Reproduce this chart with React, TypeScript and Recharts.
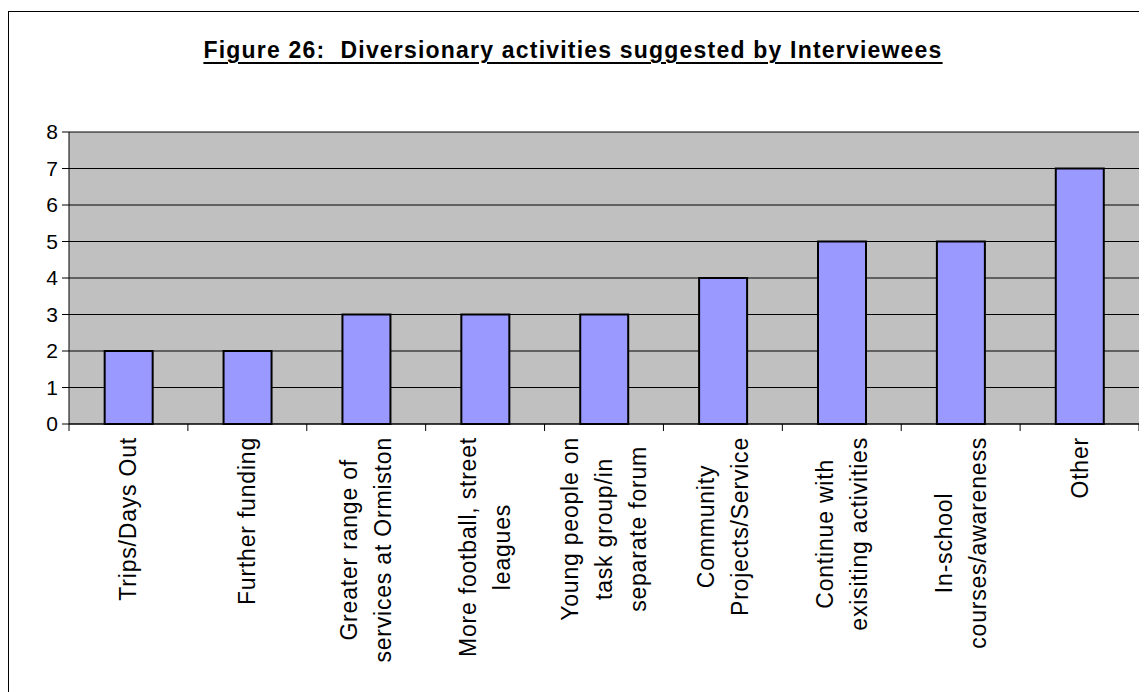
import React from "react";
import { BarChart, Bar, XAxis, YAxis, CartesianGrid } from "recharts";

const categories = [
  "Trips/Days Out",
  "Further funding",
  "Greater range of\nservices at Ormiston",
  "More football, street\nleagues",
  "Young people on\ntask group/in\nseparate forum",
  "Community\nProjects/Service",
  "Continue with\nexisiting activities",
  "In-school\ncourses/awareness",
  "Other",
];
const counts = [2, 2, 3, 3, 3, 4, 5, 5, 7];
const yTicks = [0, 1, 2, 3, 4, 5, 6, 7, 8];

const data = categories.map((name, i) => ({ name, value: counts[i] }));

const FONT = '"Liberation Sans", Arial, sans-serif';
const LABEL_SIZE = 23;
const LABEL_SPACING = 0.8;
const LINE_GAP = 34;

let ctx: CanvasRenderingContext2D | null = null;
function textWidth(s: string) {
  if (!ctx) ctx = document.createElement("canvas").getContext("2d");
  if (!ctx) return s.length * LABEL_SIZE * 0.5;
  ctx.font = `${LABEL_SIZE}px "Liberation Sans"`;
  return ctx.measureText(s).width + LABEL_SPACING * s.length;
}

const XTick = (props: any) => {
  const { x, y, payload, index } = props;
  const off = payload?.offset ?? 0;
  const lines: string[] = String(payload.value).split("\n");
  const maxLen = Math.max(...lines.map(textWidth));
  const cy = y + 13 + maxLen / 2;
  const n = lines.length;
  return (
    <g>
      <line x1={x - off} x2={x - off} y1={y} y2={y + 7} stroke="#000" />
      {index === categories.length - 1 && (
        <line x1={x + off} x2={x + off} y1={y} y2={y + 7} stroke="#000" />
      )}
      {lines.map((ln, i) => {
        const lx = x + (i - (n - 1) / 2) * LINE_GAP;
        return (
          <text
            key={i}
            x={lx}
            y={cy}
            transform={`rotate(-90, ${lx}, ${cy})`}
            textAnchor="middle"
            dominantBaseline="central"
            fontFamily={FONT}
            fontSize={LABEL_SIZE}
            letterSpacing={LABEL_SPACING}
            fill="#000"
          >
            {ln}
          </text>
        );
      })}
    </g>
  );
};

export default function App() {
  return (
    <div
      style={{
        position: "relative",
        marginTop: 3,
        width: 1138,
        height: 680,
        borderLeft: "1px solid #000",
        borderTop: "1px solid #000",
        background: "#fff",
      }}
    >
      <div
        style={{
          position: "absolute",
          left: 0,
          width: 1128,
          top: 27,
          textAlign: "center",
          fontFamily: FONT,
          fontWeight: "bold",
          fontSize: 23,
          letterSpacing: 1.2,
          textDecoration: "underline",
          textDecorationThickness: 2,
          textUnderlineOffset: 4,
          lineHeight: "23px",
        }}
      >
        Figure 26:&nbsp; Diversionary activities suggested by Interviewees
      </div>
      <BarChart
        width={1138}
        height={680}
        data={data}
        barCategoryGap="30%"
        margin={{ top: 120, right: 8, left: 0, bottom: 0 }}
      >
        <CartesianGrid vertical={false} stroke="#000" fill="#C0C0C0" />
        <XAxis
          dataKey="name"
          interval={0}
          height={268}
          tickLine={false}
          tickSize={0}
          tickMargin={0}
          tick={<XTick />}
          axisLine={{ stroke: "#000" }}
        />
        <YAxis
          domain={[0, 8]}
          ticks={yTicks}
          interval={0}
          width={60}
          tickSize={7}
          tickMargin={4}
          tickLine={{ stroke: "#000" }}
          axisLine={{ stroke: "#000" }}
          tick={{ fill: "#000", fontSize: 21, fontFamily: FONT }}
        />
        <YAxis
          yAxisId="right"
          orientation="right"
          width={0}
          tick={false}
          tickLine={false}
          axisLine={{ stroke: "#808080" }}
        />
        <Bar
          dataKey="value"
          fill="#9999FF"
          stroke="#000"
          strokeWidth={2}
          isAnimationActive={false}
        />
      </BarChart>
    </div>
  );
}
